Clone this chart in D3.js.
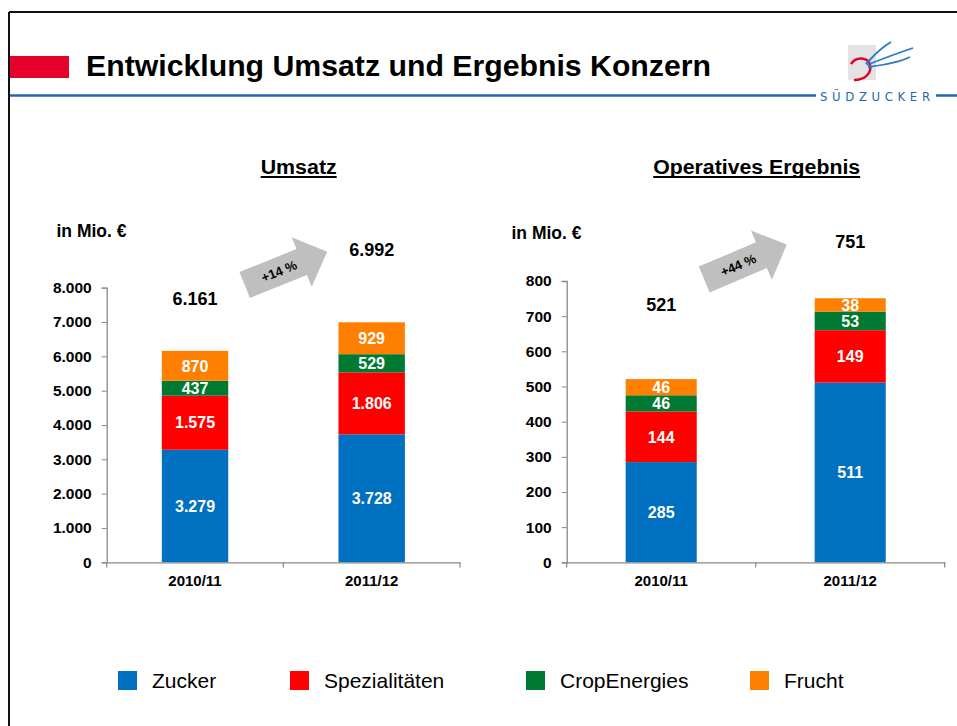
<!DOCTYPE html>
<html>
<head>
<meta charset="utf-8">
<script src="https://cdn.jsdelivr.net/npm/d3@7/dist/d3.min.js"></script>
<style>
  html, body { margin: 0; padding: 0; background: #fff; }
  svg { display: block; font-family: "Liberation Sans", Arial, sans-serif; }
</style>
</head>
<body>
<svg id="chart" width="957" height="726"></svg>
<script>
// ---------- DATA ----------
const categories = ["2010/11", "2011/12"];
const seriesNames = ["Zucker", "Spezialitäten", "CropEnergies", "Frucht"];
const seriesColors = ["#0070c0", "#ff0000", "#007a33", "#ff8000"];

const umsatzZucker = [3279, 3728];
const umsatzSpezialitaeten = [1575, 1806];
const umsatzCropEnergies = [437, 529];
const umsatzFrucht = [870, 929];
const umsatzTotal = [6161, 6992];
const umsatzTicks = [0, 1000, 2000, 3000, 4000, 5000, 6000, 7000, 8000];
const umsatzGrowth = "+14 %";

const ergebnisZucker = [285, 511];
const ergebnisSpezialitaeten = [144, 149];
const ergebnisCropEnergies = [46, 53];
const ergebnisFrucht = [46, 38];
const ergebnisTotal = [521, 751];
const ergebnisTicks = [0, 100, 200, 300, 400, 500, 600, 700, 800];
const ergebnisGrowth = "+44 %";

const titleText = "Entwicklung Umsatz und Ergebnis Konzern";
const unitText = "in Mio. €";

// ---------- SETUP ----------
const de = d3.formatLocale({decimal: ",", thousands: ".", grouping: [3], currency: ["", " €"]});
const fmt = de.format(",d");
const svg = d3.select("#chart");
const FONT = "'Liberation Sans', Arial, sans-serif";

// Frame
svg.append("line").attr("x1", 9).attr("x2", 957).attr("y1", 12).attr("y2", 12)
  .attr("stroke", "#111").attr("stroke-width", 2);
svg.append("line").attr("x1", 9).attr("x2", 9).attr("y1", 12).attr("y2", 726)
  .attr("stroke", "#111").attr("stroke-width", 2);

// Header
svg.append("rect").attr("x", 10).attr("y", 56).attr("width", 59).attr("height", 22).attr("fill", "#e4002b");
svg.append("text").attr("x", 86).attr("y", 76)
  .style("font-size", "29px").style("font-weight", "bold").attr("fill", "#000")
  .attr("textLength", 625).attr("lengthAdjust", "spacingAndGlyphs")
  .text(titleText);
svg.append("line").attr("x1", 10).attr("x2", 816).attr("y1", 95.5).attr("y2", 95.5)
  .attr("stroke", "#2566b0").attr("stroke-width", 2.5);
svg.append("line").attr("x1", 936).attr("x2", 957).attr("y1", 95.5).attr("y2", 95.5)
  .attr("stroke", "#2566b0").attr("stroke-width", 2.5);
svg.append("text").attr("x", 820).attr("y", 100.5)
  .style("font-size", "13px").attr("fill", "#2566b0")
  .attr("textLength", 110).attr("lengthAdjust", "spacing")
  .style("font-family", "'Liberation Sans Narrow', 'DejaVu Sans Condensed', sans-serif")
  .text("SÜDZUCKER");
// Logo
const logo = svg.append("g");
logo.append("rect").attr("x", 848).attr("y", 45).attr("width", 28).attr("height", 35).attr("fill", "#e3e3e3");
logo.append("path").attr("d", "M851,64 C856,56 868,57 870,65 C872,74 864,80 854,80")
  .attr("fill", "none").attr("stroke", "#e4002b").attr("stroke-width", 2.5);
logo.append("path").attr("d", "M866,64 C874,55 882,47 891,42")
  .attr("fill", "none").attr("stroke", "#2b77c8").attr("stroke-width", 2);
logo.append("path").attr("d", "M867,65 C882,59 898,53 913,48")
  .attr("fill", "none").attr("stroke", "#2b77c8").attr("stroke-width", 1.8);
logo.append("path").attr("d", "M868,67 C884,65 900,62 910,57")
  .attr("fill", "none").attr("stroke", "#2b77c8").attr("stroke-width", 1.8);

// ---------- CHART FUNCTION ----------
function drawChart(cfg) {
  const g = svg.append("g");
  const x = d3.scaleBand().domain(categories).range([cfg.x0, cfg.x1]).paddingInner(0.624).paddingOuter(0.312);
  const y = d3.scaleLinear().domain([0, cfg.max]).range([562.3, cfg.yTop]);

  // subtitle
  g.append("text").attr("x", cfg.subX).attr("y", 174)
    .attr("text-anchor", "middle").style("font-size", "20px").style("font-weight", "bold")
    .attr("textLength", cfg.subW).attr("lengthAdjust", "spacingAndGlyphs")
    .text(cfg.subtitle);
  g.append("line").attr("x1", cfg.subX - cfg.subW / 2).attr("x2", cfg.subX + cfg.subW / 2)
    .attr("y1", 177).attr("y2", 177).attr("stroke", "#000").attr("stroke-width", 2);

  // unit
  g.append("text").attr("x", cfg.unitX).attr("y", cfg.unitY)
    .style("font-size", "17.5px").style("font-weight", "bold").text(unitText);

  // stacked data
  const rows = categories.map((c, i) => {
    const o = {cat: c};
    seriesNames.forEach((s, j) => o[s] = cfg.values[j][i]);
    return o;
  });
  const stack = d3.stack().keys(seriesNames)(rows);

  const layers = g.selectAll("g.layer").data(stack).join("g")
    .attr("fill", (d, i) => seriesColors[i]);
  layers.selectAll("rect").data(d => d).join("rect")
    .attr("x", d => x(d.data.cat))
    .attr("width", x.bandwidth())
    .attr("y", d => y(d[1]))
    .attr("height", d => y(d[0]) - y(d[1]));

  // segment labels
  stack.forEach((layer) => {
    g.selectAll(null).data(layer).join("text")
      .attr("x", d => x(d.data.cat) + x.bandwidth() / 2)
      .attr("y", d => y((d[0] + d[1]) / 2))
      .attr("dy", "0.36em")
      .attr("text-anchor", "middle").style("font-size", "16px").style("font-weight", "bold")
      .attr("fill", "#fff")
      .text(d => fmt(d[1] - d[0]));
  });

  // axes
  const yAxis = d3.axisLeft(y).tickValues(cfg.ticks).tickFormat(fmt).tickSize(5).tickPadding(10);
  const ya = g.append("g").attr("transform", `translate(${cfg.x0},0)`).call(yAxis);
  ya.select(".domain").attr("stroke", "#888").attr("stroke-width", 1.3);
  ya.selectAll(".tick line").attr("stroke", "#888");
  ya.selectAll(".tick text").style("font-size", "15.5px").style("font-weight", "bold").attr("fill", "#000")
    .style("font-family", FONT);

  const xAxis = d3.axisBottom(x).tickSize(0).tickPadding(13);
  const xa = g.append("g").attr("transform", "translate(0,562.3)").call(xAxis);
  xa.select(".domain").attr("stroke", "#888").attr("stroke-width", 1.3);
  xa.selectAll(".tick text").style("font-size", "15px").style("font-weight", "bold").attr("fill", "#000")
    .style("font-family", FONT);
  const bounds = [cfg.x0, (x(categories[0]) + x.bandwidth() + x(categories[1])) / 2, cfg.x1];
  g.selectAll(null).data(bounds).join("line")
    .attr("x1", d => d).attr("x2", d => d).attr("y1", 562.3).attr("y2", 567.5)
    .attr("stroke", "#888").attr("stroke-width", 1.2);

  // totals
  g.selectAll(null).data(cfg.totals).join("text")
    .attr("x", (d, i) => x(categories[i]) + x.bandwidth() / 2)
    .attr("y", (d, i) => y(d) - cfg.totalOffsets[i])
    .attr("dy", "0.36em")
    .attr("text-anchor", "middle").style("font-size", "18px").style("font-weight", "bold").attr("fill", "#000")
    .text(d => fmt(d));

  // growth arrow
  const a = cfg.arrow;
  const ag = g.append("g").attr("transform", `translate(${a.x},${a.y}) rotate(${a.angle})`);
  const L = a.len, H = 27.5, sw = 14, hw = 26.7;
  ag.append("path")
    .attr("d", `M0,${-sw} L${L - H},${-sw} L${L - H},${-hw} L${L},0 L${L - H},${hw} L${L - H},${sw} L0,${sw} Z`)
    .attr("fill", "#bfbfbf");
  ag.append("text").attr("x", 37).attr("y", 0).attr("dy", "0.36em")
    .attr("text-anchor", "middle").style("font-size", "13px").style("font-weight", "bold").attr("fill", "#000")
    .text(cfg.growth);
}

drawChart({
  x0: 106.7, x1: 460, max: 8000, yTop: 287.7,
  values: [umsatzZucker, umsatzSpezialitaeten, umsatzCropEnergies, umsatzFrucht],
  totals: umsatzTotal, totalOffsets: [52, 73],
  ticks: umsatzTicks, subtitle: "Umsatz", subX: 298.7, subW: 76,
  unitX: 56.5, unitY: 237,
  arrow: {x: 244.7, y: 285, angle: -22, len: 89},
  growth: umsatzGrowth
});

drawChart({
  x0: 566.7, x1: 944.7, max: 800, yTop: 281,
  values: [ergebnisZucker, ergebnisSpezialitaeten, ergebnisCropEnergies, ergebnisFrucht],
  totals: ergebnisTotal, totalOffsets: [75, 57],
  ticks: ergebnisTicks, subtitle: "Operatives Ergebnis", subX: 756.7, subW: 207,
  unitX: 511.5, unitY: 239,
  arrow: {x: 704.2, y: 279.5, angle: -23, len: 89.7},
  growth: ergebnisGrowth
});

// ---------- LEGEND ----------
const legendX = [118, 290, 526, 750];
const legend = svg.append("g");
seriesNames.forEach((s, i) => {
  legend.append("rect").attr("x", legendX[i]).attr("y", 671).attr("width", 19).attr("height", 19)
    .attr("fill", seriesColors[i]);
  legend.append("text").attr("x", legendX[i] + 34).attr("y", 687.5)
    .style("font-size", "21px").attr("fill", "#000").text(s);
});
</script>
</body>
</html>
